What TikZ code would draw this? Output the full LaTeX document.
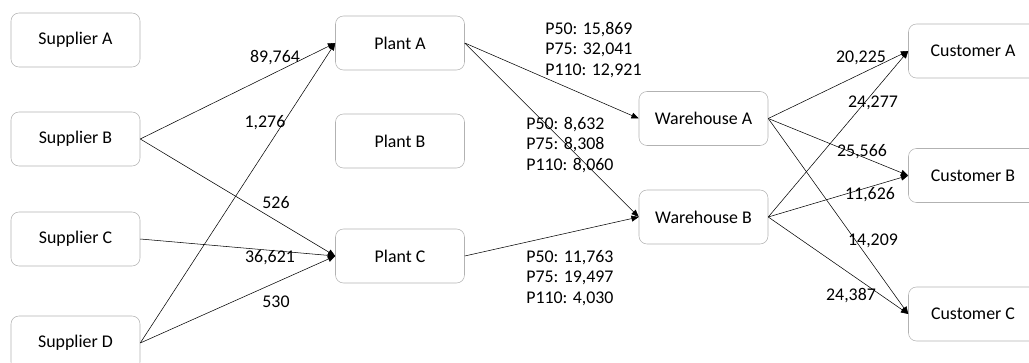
\documentclass[tikz,border=0pt]{standalone}
\usepackage{fontspec}
\setmainfont{Carlito}
\usetikzlibrary{arrows.meta}

\tikzset{
  site/.style={draw=gray!60, rounded corners=6pt, minimum width=96.75pt, minimum height=40.5pt, inner sep=0pt, font=\fontsize{13.4}{15}\selectfont},
  flow/.style={black, thin, -{Triangle[length=5.5pt, width=4.5pt]}},
  qty/.style={inner sep=0pt, font=\fontsize{13.4}{15}\selectfont},
  mix/.style={inner sep=0pt, align=left, anchor=west, font=\fontsize{13.4}{15.3}\selectfont}
}

\begin{document}
\begin{tikzpicture}[x=0.75pt, y=-0.75pt]
        \useasboundingbox (0,0) rectangle (1029,363);
        \clip (0,0) rectangle (1029,363);

        \node[site] (supA) at (75.5,40) {Supplier A};
        \node[site] (supB) at (75.5,139) {Supplier B};
        \node[site] (supC) at (75.5,239) {Supplier C};
        \node[site] (supD) at (75.5,343) {Supplier D};

        \node[site] (plantA) at (400,43) {Plant A};
        \node[site] (plantB) at (400,141) {Plant B};
        \node[site] (plantC) at (400,256) {Plant C};

        \node[site] (whA) at (703.5,118.5) {Warehouse A};
        \node[site] (whB) at (703.5,217) {Warehouse B};

        \node[site] (custA) at (973,51) {Customer A};
        \node[site] (custB) at (973,175.5) {Customer B};
        \node[site] (custC) at (973,314) {Customer C};

        \draw[flow] (supB.east) -- (plantA.west);
        \draw[flow] (supB.east) -- (plantC.west);
        \draw[flow] (supC.east) -- (plantC.west);
        \draw[flow] (supD.east) -- (plantA.west);
        \draw[flow] (supD.east) -- (plantC.west);

        \draw[flow] (plantA.east) -- (whA.west);
        \draw[flow] (plantA.east) -- (whB.west);
        \draw[flow] (plantC.east) -- (whB.west);

        \draw[flow] (whA.east) -- (custA.west);
        \draw[flow] (whA.east) -- (custB.west);
        \draw[flow] (whA.east) -- (custC.west);
        \draw[flow] (whB.east) -- (custA.west);
        \draw[flow] (whB.east) -- (custB.west);
        \draw[flow] (whB.east) -- (custC.west);

        \node[qty] at (275,58) {89,764};
        \node[qty] at (265,123) {1,276};
        \node[qty] at (276,203) {526};
        \node[qty] at (270,258) {36,621};
        \node[qty] at (276,302) {530};

        \node[mix] at (545,50) {P50: 15,869\\P75: 32,041\\P110: 12,921};
        \node[mix] at (526,145) {P50: 8,632\\P75: 8,308\\P110: 8,060};
        \node[mix] at (526,278) {P50: 11,763\\P75: 19,497\\P110: 4,030};

        \node[qty] at (861,58) {20,225};
        \node[qty] at (873,103) {24,277};
        \node[qty] at (862,152) {25,566};
        \node[qty] at (870,195) {11,626};
        \node[qty] at (873,241) {14,209};
        \node[qty] at (851,296) {24,387};
    \end{tikzpicture}
\end{document}
